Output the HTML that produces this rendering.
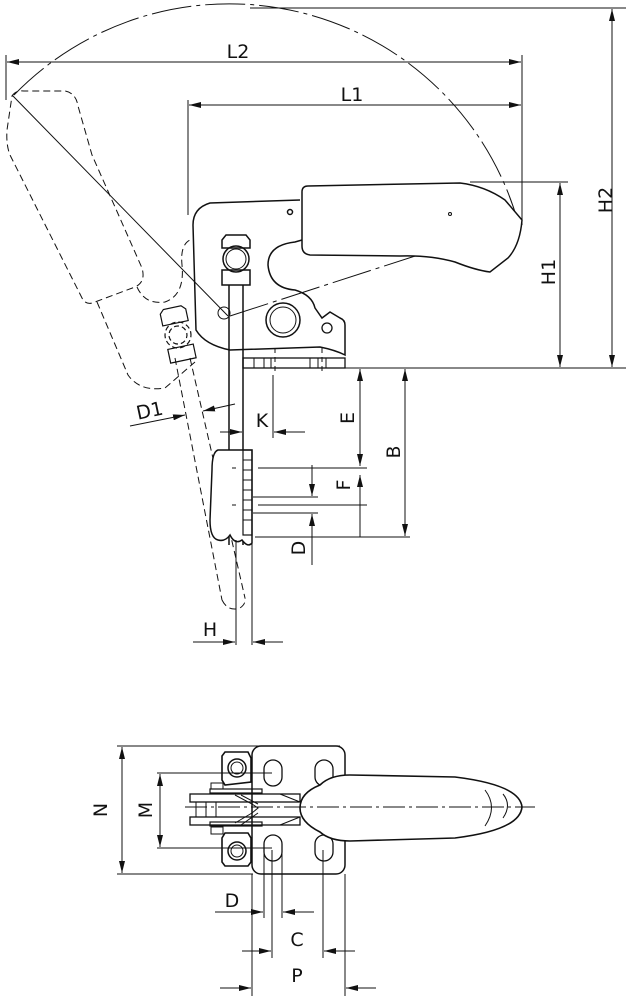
<!DOCTYPE html>
<html><head><meta charset="utf-8"><style>
html,body{margin:0;padding:0;background:#fff;}
svg{display:block;}
text{font-family:"DejaVu Sans","Liberation Sans",sans-serif;font-size:19px;fill:#111;}
</style></head><body>
<svg width="632" height="1000" viewBox="0 0 632 1000" xmlns="http://www.w3.org/2000/svg">
<defs>
<marker id="a" viewBox="0 0 12 6" refX="12" refY="3" markerWidth="12" markerHeight="6" orient="auto-start-reverse" markerUnits="userSpaceOnUse"><path d="M0,0 L12,3 L0,6 Z" fill="#111"/></marker>
</defs>
<g fill="none" stroke="#111" stroke-width="1">
<line x1="250" y1="8" x2="626" y2="8"/>
<line x1="250" y1="368" x2="626" y2="368"/>
<line x1="612" y1="9" x2="612" y2="367" marker-start="url(#a)" marker-end="url(#a)"/>
<line x1="6" y1="55" x2="6" y2="100"/>
<line x1="522" y1="55" x2="522" y2="225"/>
<line x1="7" y1="62" x2="521" y2="62" marker-start="url(#a)" marker-end="url(#a)"/>
<line x1="188" y1="100" x2="188" y2="215"/>
<line x1="189" y1="105" x2="521" y2="105" marker-start="url(#a)" marker-end="url(#a)"/>
<line x1="470" y1="182" x2="568" y2="182"/>
<line x1="560" y1="183" x2="560" y2="367" marker-start="url(#a)" marker-end="url(#a)"/>
<path d="M14,95 A300,300 0 0 1 518,222" stroke-dasharray="40,5,4,5"/>
<line x1="12" y1="95" x2="228" y2="316"/>
<line x1="230" y1="316" x2="520" y2="222" stroke-dasharray="40,5,4,5"/>
<g stroke-dasharray="7,4">
<path d="M12,96 Q16,90 24,91 L65,91 Q76,93 78,106 L92,155 L142,268 Q146,282 135,287 L95,302 Q86,306 82,298 L10,155 Q6,145 7,130 Z"/>
<path d="M97,302 L128,375 Q140,392 165,388 L195,362"/>
<path d="M137,287 Q145,305 165,302 Q185,295 182,265 Q180,245 190,240"/>
<line x1="175" y1="358" x2="222" y2="600"/>
<line x1="190" y1="358" x2="245" y2="598"/>
<path d="M222,600 Q228,612 240,608 Q246,604 245,598"/>
</g>
<g transform="translate(178,335) rotate(-12)" stroke-width="1.2">
<path d="M-13,-24 L-9,-28 L9,-28 L13,-24 L13,-12 L-13,-12 Z"/>
<circle cx="0" cy="0" r="13" stroke-dasharray="5,3"/>
<circle cx="0" cy="0" r="9" stroke-dasharray="5,3"/>
<path d="M-13,12 L13,12 L13,26 L-13,26 Z"/>
</g>
<path d="M300,200 L210,203 Q193,208 193,225 L196,330 Q205,345 230,350 L320,347 Q335,350 345,355 L345,325 Q345,320 340,318 L330,312 L322,318 L315,308 Q312,295 295,290 Q270,288 268,265 Q268,245 295,242 L302,240" stroke-width="1.5"/>
<circle cx="290" cy="212" r="2.5" stroke-width="1.5"/>
<circle cx="283" cy="320" r="17" stroke-width="1.5"/>
<circle cx="283" cy="320" r="13"/>
<circle cx="327" cy="328" r="5" stroke-width="1.3"/>
<circle cx="224" cy="313" r="6"/>
<rect x="243" y="358" width="102" height="10" stroke-width="1.3"/>
<path d="M254,358 V368 M264,358 V368 M271,358 V368 M310,358 V368 M318,358 V368 M326,358 V368"/>
<line x1="275" y1="348" x2="275" y2="375" stroke-dasharray="5,4"/>
<line x1="322" y1="348" x2="322" y2="375" stroke-dasharray="5,4"/>
<path d="M308,186 L460,183 Q485,186 505,200 L522,220 Q520,245 508,258 L490,272 Q475,270 455,262 Q430,255 400,256 L310,255 Q302,254 302,246 L302,192 Q302,186 308,186 Z" stroke-width="1.5" fill="#fff"/>
<circle cx="450" cy="214" r="1.5"/>
<path d="M229,285 V545 M243,285 V545" stroke-width="1.5"/>
<path d="M222,240 L226,235 L246,235 L250,240 L250,248 L222,248 Z" stroke-width="1.5"/>
<path d="M222,270 L250,270 L250,285 L222,285 Z" stroke-width="1.5"/>
<circle cx="236" cy="259" r="13" stroke-width="1.5"/>
<circle cx="236" cy="259" r="10"/>
<path d="M228,450 L218,450 Q212,452 212,470 L210,520 Q210,538 218,540 Q225,542 230,535 Q235,545 242,540 Q248,548 252,543 L252,450 Z" stroke-width="1.5" fill="#fff"/>
<rect x="243" y="450" width="9" height="85" stroke-width="1.2"/>
<path d="M243,460 H252 M243,470 H252 M243,480 H252 M243,490 H252 M243,500 H252 M243,510 H252 M243,520 H252"/>
<path d="M232,468 H236 M232,505 H236"/>
<path d="M236,540 V645 M252,450 V645"/>
<line x1="193" y1="642" x2="235" y2="642" marker-end="url(#a)"/>
<line x1="283" y1="642" x2="253" y2="642" marker-end="url(#a)"/>
<line x1="220" y1="432" x2="242" y2="432" marker-end="url(#a)"/>
<line x1="305" y1="432" x2="274" y2="432" marker-end="url(#a)"/>
<line x1="273" y1="375" x2="273" y2="438"/>
<line x1="130" y1="426" x2="185" y2="415" marker-end="url(#a)"/>
<line x1="235" y1="404" x2="203" y2="411" marker-end="url(#a)"/>
<line x1="360" y1="369" x2="360" y2="466" marker-start="url(#a)" marker-end="url(#a)"/>
<line x1="405" y1="369" x2="405" y2="536" marker-start="url(#a)" marker-end="url(#a)"/>
<line x1="360" y1="505" x2="360" y2="537"/>
<line x1="360" y1="506" x2="360" y2="475" marker-end="url(#a)"/>
<line x1="258" y1="468" x2="367" y2="468"/>
<line x1="253" y1="497" x2="318" y2="497"/>
<line x1="258" y1="505" x2="367" y2="505"/>
<line x1="253" y1="513" x2="318" y2="513"/>
<line x1="255" y1="537" x2="410" y2="537"/>
<line x1="312" y1="465" x2="312" y2="496" marker-end="url(#a)"/>
<line x1="312" y1="565" x2="312" y2="514" marker-end="url(#a)"/>

<!-- bottom view -->
<line x1="117" y1="746" x2="340" y2="746"/>
<line x1="117" y1="874" x2="253" y2="874"/>
<line x1="122" y1="747" x2="122" y2="873" marker-start="url(#a)" marker-end="url(#a)"/>
<line x1="157" y1="773" x2="272" y2="773"/>
<line x1="157" y1="848" x2="272" y2="848"/>
<line x1="160" y1="774" x2="160" y2="847" marker-start="url(#a)" marker-end="url(#a)"/>
<rect x="252" y="746" width="93" height="128" rx="9" stroke-width="1.5"/>
<rect x="264" y="760" width="18" height="26" rx="9" stroke-width="1.3"/>
<rect x="264" y="835" width="18" height="26" rx="9" stroke-width="1.3"/>
<rect x="315" y="760" width="18" height="26" rx="9" stroke-width="1.3"/>
<rect x="315" y="835" width="18" height="26" rx="9" stroke-width="1.3"/>
<path d="M225,752 L248,752 L251,758 L251,782 L225,785 L222,780 L222,756 Z" stroke-width="1.6"/>
<circle cx="237" cy="768" r="9" stroke-width="1.5"/><circle cx="237" cy="768" r="6"/>
<path d="M225,833 L248,833 L251,838 L251,862 L248,866 L225,866 L222,862 L222,838 Z" stroke-width="1.6"/>
<circle cx="237" cy="851" r="9" stroke-width="1.5"/><circle cx="237" cy="851" r="6"/>
<rect x="210" y="789" width="52" height="4" stroke-width="1.2"/>
<rect x="210" y="822" width="52" height="4" stroke-width="1.2"/>
<rect x="211" y="783" width="12" height="6"/>
<rect x="211" y="827" width="12" height="7"/>
<rect x="190" y="794" width="110" height="8" stroke-width="1.3"/>
<rect x="190" y="817" width="110" height="8" stroke-width="1.3"/>
<path d="M196,802 V817 M206,802 V817 M216,802 V817 M235,795 L252,804 L258,808 L252,813 L235,823 M241,795 L258,804 M241,825 L258,813 M280,794 L300,802 M280,825 L300,817"/>
<path d="M320,785 Q330,775 350,775 L455,777 Q520,785 522,807 Q520,830 455,838 L350,841 Q330,841 320,832 Q300,822 300,808 Q300,793 320,785 Z" stroke-width="1.6" fill="#fff"/>
<path d="M485,790 Q498,807 485,826 M503,794 Q512,805 503,818"/>
<line x1="185" y1="807" x2="535" y2="807" stroke-dasharray="22,4,3,4"/>
<line x1="252" y1="874" x2="252" y2="996"/>
<line x1="345" y1="874" x2="345" y2="996"/>
<line x1="264" y1="850" x2="264" y2="918"/>
<line x1="272" y1="850" x2="272" y2="958"/>
<line x1="282" y1="850" x2="282" y2="918"/>
<line x1="323" y1="850" x2="323" y2="958"/>
<line x1="215" y1="912" x2="263" y2="912" marker-end="url(#a)"/>
<line x1="314" y1="912" x2="283" y2="912" marker-end="url(#a)"/>
<line x1="242" y1="951" x2="271" y2="951" marker-end="url(#a)"/>
<line x1="355" y1="951" x2="324" y2="951" marker-end="url(#a)"/>
<line x1="220" y1="988" x2="251" y2="988" marker-end="url(#a)"/>
<line x1="376" y1="988" x2="346" y2="988" marker-end="url(#a)"/>
</g>
<text x="238" y="58" text-anchor="middle">L2</text>
<text x="352" y="101" text-anchor="middle">L1</text>
<text transform="translate(612,200) rotate(-90)" text-anchor="middle">H2</text>
<text transform="translate(555,272) rotate(-90)" text-anchor="middle">H1</text>
<text transform="translate(151,417) rotate(-12)" text-anchor="middle">D1</text>
<text x="262" y="427" text-anchor="middle">K</text>
<text transform="translate(354,418) rotate(-90)" text-anchor="middle">E</text>
<text transform="translate(400,452) rotate(-90)" text-anchor="middle">B</text>
<text transform="translate(350,485) rotate(-90)" text-anchor="middle">F</text>
<text transform="translate(305,548) rotate(-90)" text-anchor="middle">D</text>
<text x="210" y="636" text-anchor="middle">H</text>
<text transform="translate(107,810) rotate(-90)" text-anchor="middle">N</text>
<text transform="translate(152,810) rotate(-90)" text-anchor="middle">M</text>
<text x="232" y="907" text-anchor="middle">D</text>
<text x="297" y="946" text-anchor="middle">C</text>
<text x="297" y="982" text-anchor="middle">P</text>
</svg>
</body></html>
